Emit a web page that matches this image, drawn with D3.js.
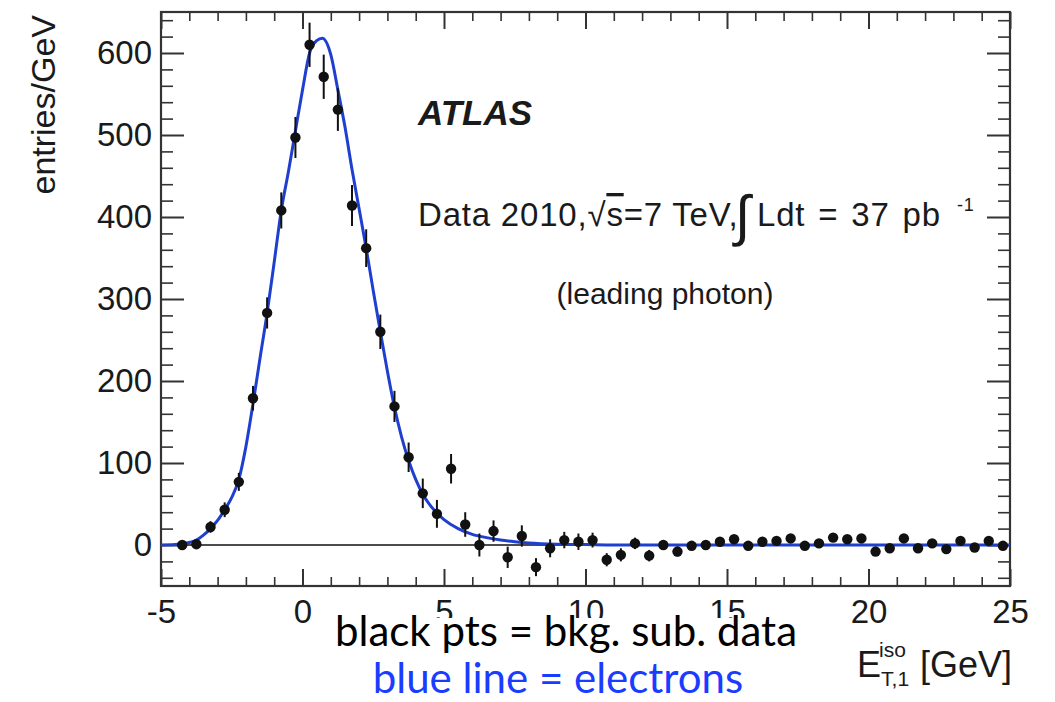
<!DOCTYPE html>
<html>
<head>
<meta charset="utf-8">
<script src="https://cdn.jsdelivr.net/npm/d3@7"></script>
<style>
  body { margin: 0; background: #fff; }
  .axis text { font-family: "Liberation Sans", Arial, Helvetica, sans-serif; font-size: 33px; fill: #1a1a1a; }
  .axis line { stroke: #333; }
  .rootText { font-family: "Liberation Sans", Arial, Helvetica, sans-serif; fill: #1a1a1a; }
  .slideText { font-family: Lato, "Open Sans", sans-serif; }
</style>
</head>
<body>
<div id="plot"></div>
<script>
// background-subtracted data, 0.5 GeV bins (bin centres)
var binCenters = [-4.25, -3.75, -3.25, -2.75, -2.25, -1.75, -1.25, -0.75, -0.25, 0.25,
  0.75, 1.25, 1.75, 2.25, 2.75, 3.25, 3.75, 4.25, 4.75, 5.25,
  5.75, 6.25, 6.75, 7.25, 7.75, 8.25, 8.75, 9.25, 9.75, 10.25,
  10.75, 11.25, 11.75, 12.25, 12.75, 13.25, 13.75, 14.25, 14.75, 15.25,
  15.75, 16.25, 16.75, 17.25, 17.75, 18.25, 18.75, 19.25, 19.75, 20.25,
  20.75, 21.25, 21.75, 22.25, 22.75, 23.25, 23.75, 24.25, 24.75];
var entries = [0, 1, 22, 43, 77, 179, 283, 408, 497, 610,
  571, 531, 414, 362, 260, 169, 107, 63, 38, 93,
  25, 0, 17, -15, 11, -27, -4, 6, 4, 6,
  -18, -12, 2, -13, 0, -8, -1, 0, 4, 7,
  -1, 4, 5, 8, -1, 2, 9, 7, 8, -8,
  -4, 8, -4, 2, -5, 5, -3, 5, -1];
var errors = [4, 4, 7, 9, 11, 15, 19, 22, 25, 27,
  27, 26, 25, 23, 21, 19, 18, 18, 17, 18,
  15, 14, 13, 13, 13, 11, 11, 10, 10, 9,
  8, 8, 7, 7, 6, 6, 5, 5, 5, 5,
  4, 4, 4, 4, 4, 4, 4, 4, 4, 4,
  4, 4, 4, 4, 4, 4, 4, 4, 4];

// electron template (blue line)
var fitX = [-5, -4.5, -4.25, -4, -3.75, -3.5, -3.25, -3, -2.75, -2.5,
  -2.25, -2, -1.75, -1.5, -1.25, -1, -0.75, -0.5, -0.25, 0,
  0.25, 0.5, 0.7, 1, 1.25, 1.5, 1.75, 2, 2.25, 2.5,
  2.75, 3, 3.25, 3.5, 3.75, 4, 4.25, 4.5, 4.75, 5,
  5.5, 6, 6.5, 7, 7.5, 8, 9, 10, 11, 15, 20, 25];
var fitY = [0, 0.5, 1.5, 3, 6, 12, 20, 30, 43, 58,
  80, 120, 172, 228, 283, 345, 408, 455, 505, 555,
  600, 615, 618, 598, 555, 510, 458, 410, 362, 310,
  260, 212, 168, 132, 103, 80, 62, 49, 39, 31,
  20, 13, 9, 6, 4, 2.5, 1, 0.5, 0, 0, 0, 0];

var xTicks = [-5, 0, 5, 10, 15, 20, 25];
var yTicks = [0, 100, 200, 300, 400, 500, 600];

var svgWidth = 1055;
var svgHeight = 702;
var margin = { top: 12, right: 45, bottom: 116, left: 161 };
var width = svgWidth - margin.left - margin.right;
var height = svgHeight - margin.top - margin.bottom;

var svg = d3.select("#plot").append("svg")
  .attr("width", svgWidth)
  .attr("height", svgHeight);

var chartGroup = svg.append("g")
  .attr("transform", `translate(${margin.left}, ${margin.top})`);

var xScale = d3.scaleLinear().domain([-5, 25]).range([0, width]);
var yScale = d3.scaleLinear().domain([-50, 650]).range([height, 0]);

var xMinor = xScale.ticks(30).filter(d => xTicks.indexOf(d) < 0);
var yMinor = yScale.ticks(35).filter(d => yTicks.indexOf(d) < 0);

// plain hyphen for negatives, like the original
var plainFmt = d => String(d);

function noDomain(g) { g.select(".domain").remove(); }

// ROOT style: ticks on all four sides, pointing inward
chartGroup.append("g").attr("class", "axis")
  .call(d3.axisLeft(yScale).tickValues(yTicks).tickSize(-23).tickPadding(9).tickFormat(plainFmt))
  .call(noDomain)
  .selectAll("line").attr("stroke-width", 2);
chartGroup.append("g").attr("class", "axis")
  .call(d3.axisLeft(yScale).tickValues(yMinor).tickSize(-12).tickFormat(""))
  .call(noDomain)
  .selectAll("line").attr("stroke-width", 1.6);
chartGroup.append("g").attr("class", "axis")
  .attr("transform", `translate(${width}, 0)`)
  .call(d3.axisRight(yScale).tickValues(yTicks).tickSize(-23).tickFormat(""))
  .call(noDomain)
  .selectAll("line").attr("stroke-width", 2);
chartGroup.append("g").attr("class", "axis")
  .attr("transform", `translate(${width}, 0)`)
  .call(d3.axisRight(yScale).tickValues(yMinor).tickSize(-12).tickFormat(""))
  .call(noDomain)
  .selectAll("line").attr("stroke-width", 1.6);

chartGroup.append("g").attr("class", "axis")
  .attr("transform", `translate(0, ${height})`)
  .call(d3.axisBottom(xScale).tickValues(xTicks).tickSize(-17).tickPadding(14).tickFormat(plainFmt))
  .call(noDomain)
  .selectAll("line").attr("stroke-width", 2);
chartGroup.append("g").attr("class", "axis")
  .attr("transform", `translate(0, ${height})`)
  .call(d3.axisBottom(xScale).tickValues(xMinor).tickSize(-9).tickFormat(""))
  .call(noDomain)
  .selectAll("line").attr("stroke-width", 1.6);
chartGroup.append("g").attr("class", "axis")
  .call(d3.axisTop(xScale).tickValues(xTicks).tickSize(-17).tickFormat(""))
  .call(noDomain)
  .selectAll("line").attr("stroke-width", 2);
chartGroup.append("g").attr("class", "axis")
  .call(d3.axisTop(xScale).tickValues(xMinor).tickSize(-9).tickFormat(""))
  .call(noDomain)
  .selectAll("line").attr("stroke-width", 1.6);

// frame
chartGroup.append("rect")
  .attr("width", width)
  .attr("height", height)
  .attr("fill", "none")
  .attr("stroke", "#333")
  .attr("stroke-width", 2.2);

// zero line
chartGroup.append("line")
  .attr("x1", xScale(-5)).attr("x2", xScale(25))
  .attr("y1", yScale(0)).attr("y2", yScale(0))
  .attr("stroke", "#111")
  .attr("stroke-width", 1.6);

// electron template
var fitLine = d3.line()
  .x((d, i) => xScale(fitX[i]))
  .y(d => yScale(d))
  .curve(d3.curveMonotoneX);

chartGroup.append("path")
  .datum(fitY)
  .attr("d", fitLine)
  .attr("fill", "none")
  .attr("stroke", "#1f3fcf")
  .attr("stroke-width", 3);

// data points with error bars
var pts = chartGroup.append("g");
pts.selectAll("line")
  .data(entries)
  .enter()
  .append("line")
  .attr("x1", (d, i) => xScale(binCenters[i]))
  .attr("x2", (d, i) => xScale(binCenters[i]))
  .attr("y1", (d, i) => yScale(d - errors[i]))
  .attr("y2", (d, i) => yScale(d + errors[i]))
  .attr("stroke", "#111")
  .attr("stroke-width", 2);
pts.selectAll("circle")
  .data(entries)
  .enter()
  .append("circle")
  .attr("cx", (d, i) => xScale(binCenters[i]))
  .attr("cy", d => yScale(d))
  .attr("r", 5.2)
  .attr("fill", "#111");

// labels inside the frame
chartGroup.append("text")
  .attr("class", "rootText")
  .attr("x", 257).attr("y", 113)
  .attr("font-size", 35)
  .attr("font-weight", "bold")
  .attr("font-style", "italic")
  .text("ATLAS");

var lumi = chartGroup.append("text")
  .attr("class", "rootText")
  .attr("x", 257).attr("y", 214)
  .attr("font-size", 33)
  .attr("letter-spacing", 0.8);
lumi.append("tspan").text("Data 2010,\u221A");
lumi.append("tspan").style("text-decoration", "overline").text("s");
lumi.append("tspan").text("=7 TeV,");
lumi.append("tspan").attr("x", 574).attr("font-size", 56).attr("dy", 9).text("\u222B");
lumi.append("tspan").attr("x", 596).attr("dy", -9).attr("word-spacing", 3).text("Ldt = 37 pb");
lumi.append("tspan").attr("x", 796).attr("font-size", 18).attr("dy", -15).text("-1");

chartGroup.append("text")
  .attr("class", "rootText")
  .attr("x", 504).attr("y", 292)
  .attr("text-anchor", "middle")
  .attr("font-size", 30)
  .text("(leading photon)");

// axis titles
svg.append("text")
  .attr("class", "rootText")
  .attr("transform", "rotate(-90)")
  .attr("x", -15).attr("y", 55)
  .attr("text-anchor", "end")
  .attr("font-size", 34)
  .text("entries/GeV");

var xTitle = svg.append("text")
  .attr("class", "rootText")
  .attr("x", 1012).attr("y", 677)
  .attr("text-anchor", "end")
  .attr("font-size", 36);
xTitle.append("tspan").text("E");
xTitle.append("tspan").attr("font-size", 21).attr("dy", 9).text("T,1");
xTitle.append("tspan").attr("font-size", 21).attr("dx", -30).attr("dy", -29).text("iso");
xTitle.append("tspan").attr("dx", 4).attr("dy", 20).text(" [GeV]");

// slide annotation on top of the figure
svg.append("rect")
  .attr("x", 326).attr("y", 618)
  .attr("width", 478).attr("height", 84)
  .attr("fill", "#fff");
svg.append("text")
  .attr("class", "slideText")
  .attr("x", 566).attr("y", 646)
  .attr("text-anchor", "middle")
  .attr("font-size", 42)
  .attr("fill", "#000")
  .text("black pts = bkg. sub. data");
svg.append("text")
  .attr("class", "slideText")
  .attr("x", 558).attr("y", 693)
  .attr("text-anchor", "middle")
  .attr("font-size", 42)
  .attr("fill", "#1a3cff")
  .text("blue line = electrons");
</script>
</body>
</html>
